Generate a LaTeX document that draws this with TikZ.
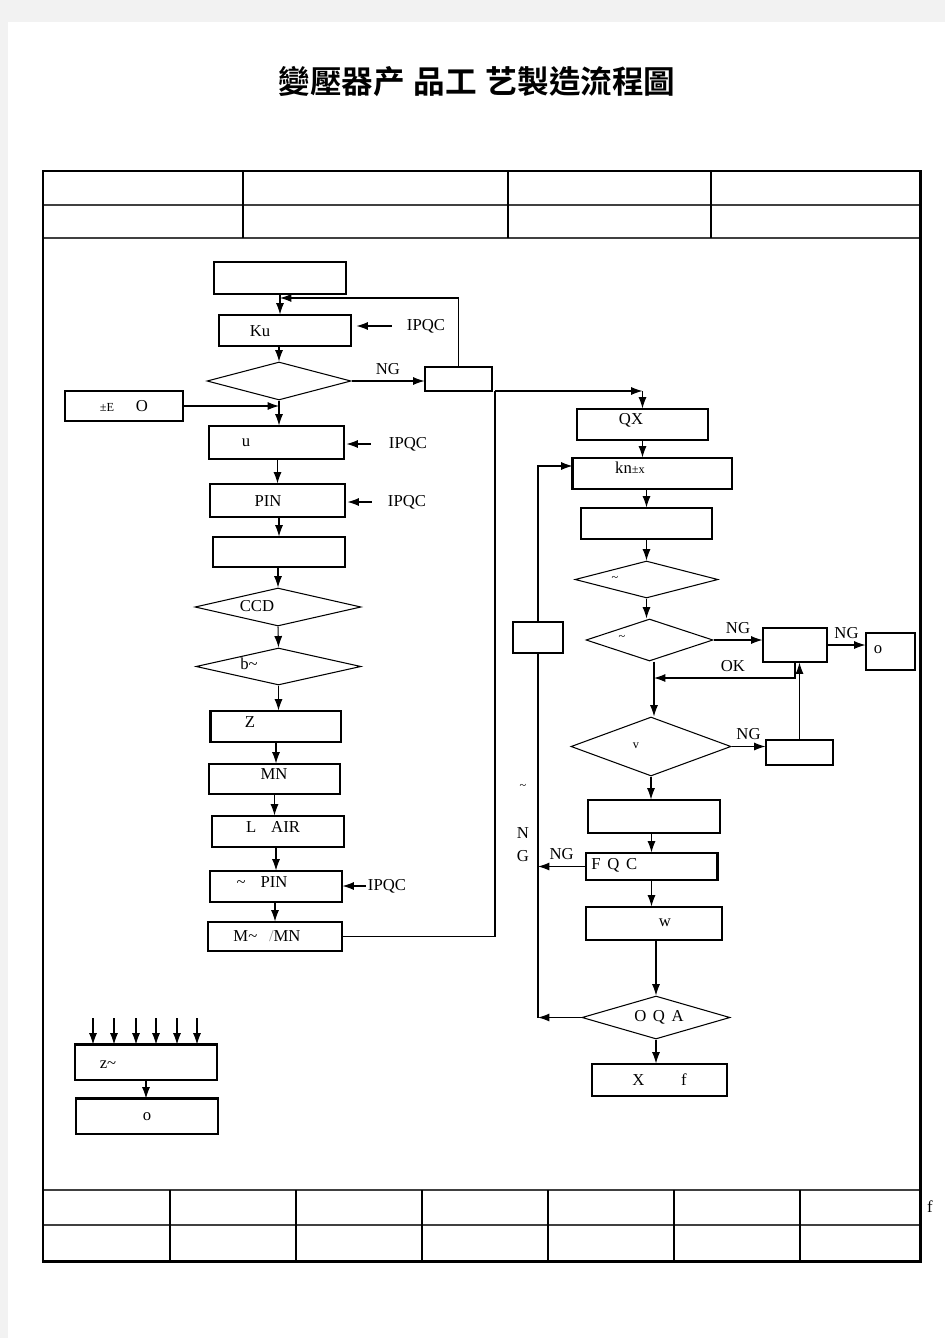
\documentclass[tikz,border=0pt]{standalone}
\usepackage{fontspec}
\setmainfont{Liberation Serif}
\newfontfamily\cjk{Noto Sans CJK TC}[BoldFont={Noto Sans CJK TC Bold}]
\usetikzlibrary{arrows.meta,shapes.geometric}

\begin{document}
\begin{tikzpicture}[x=0.02cm, y=-0.02cm,
    font=\fontsize{9.5}{11}\selectfont,
    >={Latex[length=6.5pt,width=4.6pt]},
    box/.style args={#1/#2}{draw, rectangle, line width=0.6pt, inner sep=0, minimum width=#1cm, minimum height=#2cm},
    decision/.style args={#1/#2}{draw, diamond, line width=0.6pt, inner sep=0, minimum width=#1cm, minimum height=#2cm},
    txt/.style={inner sep=0},
    flow/.style={line width=0.6pt}]
    \useasboundingbox (0,0) rectangle (945,1338);
    %page
    \fill[black!5] (0,0) rectangle (945,1338);
    \fill[white] (8,22) rectangle (945,1338);
    \node (title) at (477,82) {\cjk\bfseries\fontsize{18}{18}\selectfont 變壓器产\hspace{5pt}品工\hspace{5pt}艺製造流程圖};

    %frame and tables
    \draw[line width=0.8pt, black!75] (43,205) -- (920,205);
    \draw[line width=0.8pt, black!75] (43,238) -- (920,238);
    \foreach \x in {243,508,711}
        \draw[line width=0.6pt] (\x,171) -- (\x,238);
    \draw[line width=0.8pt, black!75] (43,1190) -- (920,1190);
    \draw[line width=0.8pt, black!75] (43,1225) -- (920,1225);
    \foreach \x in {170,296,422,548,674,800}
        \draw[line width=0.6pt] (\x,1190) -- (\x,1261);
    \draw[line width=1.7pt] (43,171) rectangle (920,1261);
    \node[txt] (fmark) at (930,1207) {f};

    %left column
    \node[box=2.64/0.64] (top0) at (280,278) {};
    \node[box=2.64/0.62] (ku) at (285,330.5) {};
    \node[txt] (tku) at (260,331) {Ku};
    \node[decision=2.88/0.76] (d1) at (279,381) {};
    \node[box=1.34/0.48] (ng1) at (458.5,379) {};
    \node[box=2.36/0.60] (side) at (124,406) {{\scriptsize ±E}\hspace{1.3em}O};
    \node[box=2.70/0.66] (u) at (276.5,442.5) {};
    \node[txt] (tu) at (246,443) {u};
    \node[box=2.70/0.66] (pin) at (277.5,500.5) {};
    \node[txt] (tpn) at (268,501) {PIN};
    \node[box=2.64/0.60] (e2) at (279,552) {};
    \node[decision=3.32/0.76] (ccd) at (278,607) {};
    \node[txt] (tccd) at (257,606) {CCD};
    \node[decision=3.30/0.74] (bt) at (278.5,666.5) {};
    \node[txt] (tbt) at (249,664) {b\textasciitilde};
    \node[box=2.60/0.62] (z) at (276,726.5) {};
    \node[txt] (tz) at (250,722) {Z};
    \node[box=2.62/0.60] (mn) at (274.5,779) {};
    \node[txt] (tmn) at (274,774) {MN};
    \node[box=2.64/0.62] (lair) at (278,831.5) {};
    \node[txt] (tlair) at (273,827) {L\hspace{0.9em}AIR};
    \node[box=2.64/0.62] (tpin) at (276,886.5) {};
    \node[txt] (ttpin) at (262,882) {\textasciitilde\hspace{0.9em}PIN};
    \node[box=2.68/0.58] (mmn) at (275,936.5) {};
    \node[txt] (tmmn) at (267,936) {M\textasciitilde\hspace{0.7em}{\color{black!40}/}MN};
    \draw[line width=1.2pt] (z.north west) -- (z.south west);
    \draw[line width=1pt] (ku.north west) -- (ku.south west);

    \node[txt] (q1) at (426,326) {IPQC};
    \node[txt] (q2) at (408,444) {IPQC};
    \node[txt] (q3) at (407,502) {IPQC};
    \node[txt] (q4) at (387,886) {IPQC};

    \draw[flow,->] (top0.south) -- (top0.south |- ku.north);
    \coordinate (lp) at (280,298);
    \draw[flow,->] (ng1.north) |- (lp);
    \draw[flow,->] (d1.north |- ku.south) -- (d1.north);
    \draw[flow,->] (d1.east) -- (d1.east -| ng1.west) node[midway, above] {NG};
    \draw[flow,->] (side.east) -- (side.east -| d1.south);
    \draw[flow,->] (d1.south) -- (d1.south |- u.north);
    \draw[flow,->, shorten <=0.3cm, shorten >=0.1cm] (q1.west) -- (q1.west -| ku.east);
    \draw[flow,->, shorten <=0.36cm, shorten >=0.04cm] (q2.west) -- (q2.west -| u.east);
    \draw[flow,->, shorten <=0.32cm, shorten >=0.04cm] (q3.west) -- (q3.west -| pin.east);
    \draw[flow,->, shorten <=0.04cm] (q4.west) -- (q4.west -| tpin.east);
    \draw[flow,->] (pin.north |- u.south) -- (pin.north);
    \draw[flow,->] (e2.north |- pin.south) -- (e2.north);
    \draw[flow,->] (ccd.north |- e2.south) -- (ccd.north);
    \draw[flow,->] (ccd.south) -- (bt.north);
    \draw[flow,->] (bt.south) -- (bt.south |- z.north);
    \draw[flow,->] (z.south) -- (z.south |- mn.north);
    \draw[flow,->] (mn.south) -- (mn.south |- lair.north);
    \draw[flow,->] (tpin.north |- lair.south) -- (tpin.north);
    \draw[flow,->] (mmn.north |- tpin.south) -- (mmn.north);

    %right column
    \node[box=2.62/0.62] (qx) at (642.5,424.5) {};
    \node[txt] (tqx) at (631,420) {QX};
    \node[box=3.18/0.62] (kn) at (652.5,473.5) {};
    \node[txt] (tkn) at (630,468) {kn{\scriptsize ±x}};
    \node[box=2.62/0.62] (e3) at (646.5,523.5) {};
    \node[decision=2.86/0.74] (t1) at (646.5,579.5) {};
    \node[txt] (tt1) at (615,579) {\scriptsize\textasciitilde};
    \node[decision=2.54/0.84] (t2) at (649.5,640) {};
    \node[txt] (tt2) at (622,638) {\scriptsize\textasciitilde};
    \node[box=1.28/0.68] (r1) at (795,645) {};
    \node[box=0.98/0.74] (o1) at (890.5,651.5) {};
    \node[txt] (to1) at (878,650) {o};
    \node[decision=3.20/1.18] (v) at (651,746.5) {};
    \node[txt] (tv) at (636,746) {\scriptsize v};
    \node[box=1.34/0.50] (r2) at (799.5,752.5) {};
    \node[box=2.64/0.66] (e4) at (654,816.5) {};
    \node[box=2.62/0.54] (fqc) at (651.5,866.5) {};
    \node[txt, anchor=west] (tfqc) at (591,865) {F\hspace{0.4em}Q\hspace{0.4em}C};
    \node[box=2.72/0.66] (w) at (654,923.5) {};
    \node[txt] (tw) at (665,923) {w};
    \node[decision=2.96/0.86] (oqa) at (656,1017.5) {};
    \node[txt] (toqa) at (659,1017) {O\hspace{0.4em}Q\hspace{0.4em}A};
    \node[box=2.70/0.64] (xf) at (659.5,1080) {X\hspace{2.2em}f};
    \node[box=1.00/0.62] (lb) at (538,637.5) {};
    \node[txt] (tl1) at (523,787) {\scriptsize\textasciitilde};
    \node[txt] (tl2) at (523,833) {N};
    \node[txt] (tl3) at (523,856) {G};
    \draw[line width=1.2pt] (kn.north west) -- (kn.south west);
    \draw[line width=1.2pt] (fqc.north east) -- (fqc.south east);

    \coordinate (c1) at (495,391);
    \draw[flow] (mmn.east) -| (c1);
    \draw[flow,->] (c1) -- (c1 -| qx.north);
    \draw[flow,->] (c1 -| qx.north) -- (qx.north);
    \draw[flow,->] (qx.south) -- (qx.south |- kn.north);
    \draw[flow,->] (lb.north) |- ([yshift=0.15cm]kn.west);
    \draw[flow,->] (e3.north |- kn.south) -- (e3.north);
    \draw[flow,->] (e3.south) -- (t1.north);
    \draw[flow,->] (t1.south) -- (t1.south |- t2.north);
    \draw[flow,->] (t2.east) -- (t2.east -| r1.west) node[midway, above] {NG};
    \draw[flow,->] (r1.east) -- (r1.east -| o1.west) node[midway, above] {NG};
    \coordinate (ok1) at (654,678);
    \draw[flow,->] (r1.south) |- (ok1) node[pos=0.72, above] {OK};
    \draw[flow,->] (ok1 |- t2.south) -- (ok1 |- v.north);
    \draw[flow,->] (v.east) -- (v.east -| r2.west) node[midway, above] {NG};
    \draw[flow,->] (r2.north) -- (r2.north |- r1.south);
    \draw[flow,->] (v.south) -- (v.south |- e4.north);
    \draw[flow,->] (fqc.north |- e4.south) -- (fqc.north);
    \draw[flow,->] (fqc.south) -- (fqc.south |- w.north);
    \draw[flow,->] (oqa.north |- w.south) -- (oqa.north);
    \draw[flow,->] (oqa.south) -- (oqa.south |- xf.north);
    \draw[flow,->] (fqc.west) -- (fqc.west -| lb.south) node[midway, above] {NG};
    \draw[flow] (lb.south) -- (lb.south |- oqa.west);
    \draw[flow,->] (oqa.west) -- (oqa.west -| lb.south);

    %bottom left
    \node[box=2.84/0.70] (zt) at (146,1062.5) {};
    \node[txt] (tzt) at (108,1065) {z\textasciitilde};
    \node[box=2.84/0.70] (ob) at (147,1116.5) {o};
    \draw[line width=1.2pt] (zt.north west) -- (zt.north east);
    \draw[line width=1.2pt] (ob.north west) -- (ob.north east);
    \foreach \x in {93,114,136,156,177,197}
        \draw[flow,->] (\x,1018) -- (zt.north -| \x,0);
    \draw[flow,->] (zt.south) -- (zt.south |- ob.north);
\end{tikzpicture}
\end{document}
